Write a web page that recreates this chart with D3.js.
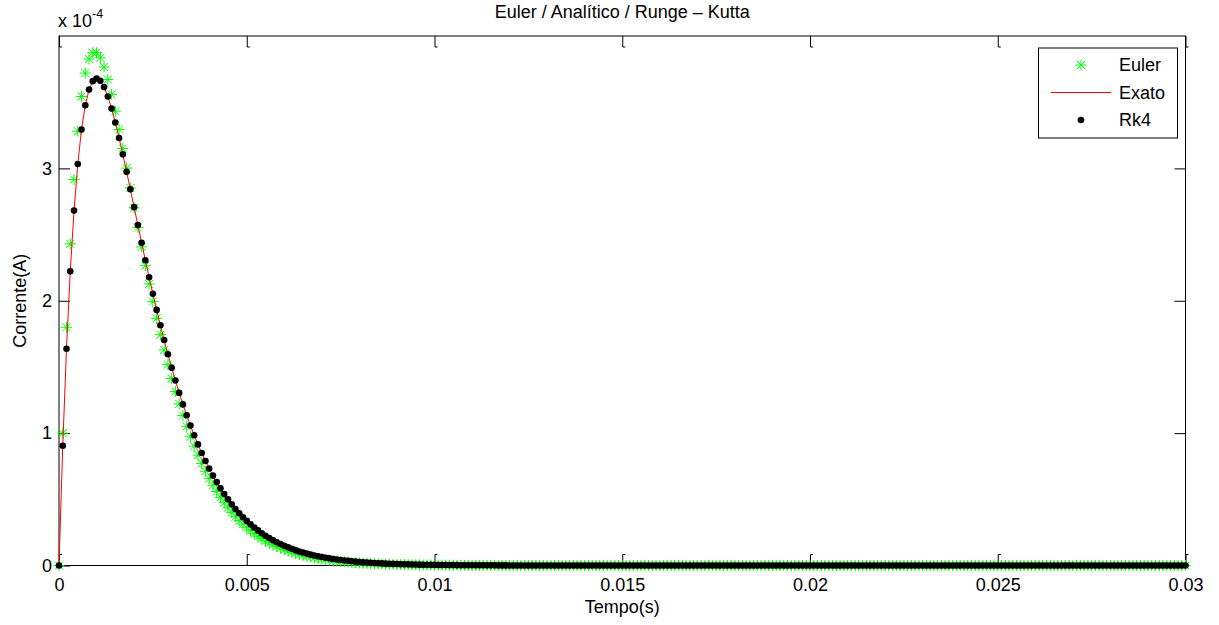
<!DOCTYPE html>
<html><head><meta charset="utf-8">
<script src="https://cdn.jsdelivr.net/npm/d3@7"></script>
<style>
body{margin:0;background:#fff}
text{font-family:"Liberation Sans",Arial,Helvetica,sans-serif;fill:#000}
</style>
</head><body>
<svg id="c" width="1219" height="625"></svg>
<script>
// ---- data (current in units of 1e-4 A), step h = 1e-4 s, t = 0 ... 0.03 s ----
const h = 1e-4;
const nSteps = 301;
const xTicks = [0, 0.005, 0.01, 0.015, 0.02, 0.025, 0.03];
const yTicks = [0, 1, 2, 3];
const seriesNames = ["Euler", "Exato", "Rk4"];

const eulerHead = [
 0, 1.000, 1.800, 2.430, 2.916, 3.281, 3.543, 3.720, 3.826, 3.874,
 3.874, 3.835, 3.766, 3.672, 3.559, 3.432, 3.294, 3.150, 3.002, 2.852,
 2.702, 2.553, 2.407, 2.265, 2.127, 1.994, 1.867, 1.744, 1.628, 1.518,
 1.413, 1.314, 1.221, 1.133, 1.051, 0.973, 0.901, 0.834, 0.770, 0.712,
 0.657, 0.606, 0.559, 0.515, 0.474, 0.436, 0.401, 0.369, 0.339, 0.312,
 0.286, 0.263, 0.241, 0.221, 0.203, 0.186, 0.170, 0.156, 0.143, 0.131,
 0.120, 0.110, 0.100, 0.092, 0.084, 0.077, 0.070, 0.064, 0.058, 0.053,
 0.049, 0.045, 0.041, 0.037, 0.034, 0.031, 0.028, 0.026, 0.023, 0.021,
 0.019, 0.018, 0.016, 0.015, 0.013, 0.012, 0.011, 0.010, 0.009, 0.008,
 0.0076, 0.0069, 0.0062, 0.0056, 0.0050, 0.0047, 0.0041, 0.0037, 0.0033, 0.0032,
 0.0030, 0.0027, 0.0024, 0.0021, 0.0019, 0.0017, 0.0016, 0.0014, 0.0012, 0.0011,
 0.0010, 0.0009, 0.0008, 0.0007, 0.0007, 0.0006, 0.0005, 0.0005, 0.0004, 0.0004
];
const rk4Head = [
 0, 0.905, 1.637, 2.222, 2.681, 3.033, 3.293, 3.476, 3.595, 3.659,
 3.679, 3.662, 3.614, 3.543, 3.452, 3.347, 3.230, 3.106, 2.975, 2.842,
 2.707, 2.572, 2.438, 2.306, 2.177, 2.052, 1.931, 1.815, 1.703, 1.596,
 1.494, 1.397, 1.304, 1.217, 1.135, 1.057, 0.984, 0.915, 0.850, 0.789,
 0.733, 0.679, 0.630, 0.583, 0.540, 0.500, 0.462, 0.427, 0.395, 0.365,
 0.337, 0.311, 0.287, 0.265, 0.244, 0.225, 0.207, 0.191, 0.176, 0.162,
 0.149, 0.137, 0.126, 0.116, 0.106, 0.098, 0.090, 0.082, 0.076, 0.070,
 0.064, 0.059, 0.054, 0.049, 0.045, 0.041, 0.038, 0.035, 0.032, 0.029,
 0.027, 0.025, 0.023, 0.021, 0.019, 0.017, 0.016, 0.014, 0.013, 0.012,
 0.011, 0.010, 0.009, 0.0085, 0.0078, 0.0071, 0.0065, 0.0059, 0.0054, 0.0050,
 0.0045, 0.0042, 0.0038, 0.0035, 0.0032, 0.0029, 0.0026, 0.0024, 0.0022, 0.0020,
 0.0018, 0.0016, 0.0015, 0.0014, 0.0012, 0.0012, 0.0010, 0.0009, 0.0009, 0.0008
];
// t >= 0.012 s : all methods are at zero on the plot
const tailZeros = [
 0,0,0,0,0,0,0,0,0,0, 0,0,0,0,0,0,0,0,0,0,
 0,0,0,0,0,0,0,0,0,0, 0,0,0,0,0,0,0,0,0,0,
 0,0,0,0,0,0,0,0,0,0, 0,0,0,0,0,0,0,0,0,0,
 0,0,0,0,0,0,0,0,0,0, 0,0,0,0,0,0,0,0,0,0,
 0,0,0,0,0,0,0,0,0,0, 0,0,0,0,0,0,0,0,0,0,
 0,0,0,0,0,0,0,0,0,0, 0,0,0,0,0,0,0,0,0,0,
 0,0,0,0,0,0,0,0,0,0, 0,0,0,0,0,0,0,0,0,0,
 0,0,0,0,0,0,0,0,0,0, 0,0,0,0,0,0,0,0,0,0,
 0,0,0,0,0,0,0,0,0,0, 0,0,0,0,0,0,0,0,0,0,
 0
];
const euler = eulerHead.concat(tailZeros);
const rk4 = rk4Head.concat(tailZeros);
const exato = rk4Head.concat(tailZeros); // analytic solution coincides with RK4 at plot resolution
const tempo = d3.range(nSteps).map(i => i * h);

// ---- drawing ----
const svg = d3.select("#c");
const L = 59, R = 1185.5, T = 36, B = 565.5;
const FS = 18;
const x = d3.scaleLinear().domain([0, 0.03]).range([L, R]);
const y = d3.scaleLinear().domain([0, 4]).range([B, T]);
const fmt = d3.format("~g");
const tk = 11;

function styleAxis(g){
  g.select(".domain").remove();
  g.selectAll(".tick line").attr("stroke","#000").attr("stroke-width",1);
  g.selectAll(".tick text").attr("font-size",FS).attr("font-family",'"Liberation Sans",Arial,sans-serif').attr("fill","#000");
}
const gb = svg.append("g").attr("transform",`translate(0,${B})`)
  .call(d3.axisBottom(x).tickValues(xTicks).tickFormat(fmt).tickSize(-tk).tickPadding(12.7)).call(styleAxis);
const gt = svg.append("g").attr("transform",`translate(0,${T})`)
  .call(d3.axisTop(x).tickValues(xTicks).tickFormat("").tickSize(-tk)).call(styleAxis);
svg.append("g").attr("transform",`translate(${L},0)`)
  .call(d3.axisLeft(y).tickValues(yTicks).tickFormat(fmt).tickSize(-tk).tickPadding(7)).call(styleAxis);
svg.append("g").attr("transform",`translate(${R},0)`)
  .call(d3.axisRight(y).tickValues(yTicks).tickFormat("").tickSize(-tk)).call(styleAxis);
// small hooks at the inner end of the x ticks (as rendered in the original)
gb.selectAll(".tick").append("line").attr("x1",0).attr("x2",2.5).attr("y1",-tk).attr("y2",-tk).attr("stroke","#000");
gt.selectAll(".tick").append("line").attr("x1",0).attr("x2",2.5).attr("y1",tk).attr("y2",tk).attr("stroke","#000");

svg.append("rect").attr("x",L).attr("y",T).attr("width",R-L).attr("height",B-T)
  .attr("fill","none").attr("stroke","#000").attr("stroke-width",1);

// exponent label
const ex = svg.append("text").attr("x",58).attr("y",26.5).attr("font-size",FS);
ex.append("tspan").text("x 10");
ex.append("tspan").attr("font-size",12.5).attr("dy",-9).text("-4");

// series
const s = 5.5, d = 4;
const star = `M${-s},0L${s},0M0,${-s}L0,${s}M${-d},${-d}L${d},${d}M${-d},${d}L${d},${-d}`;
svg.append("g").selectAll("path").data(euler).join("path")
  .attr("transform",(v,i)=>`translate(${x(tempo[i])},${y(v)})`)
  .attr("d",star).attr("stroke","#00ff00").attr("stroke-width",1).attr("fill","none");

svg.append("path").datum(exato)
  .attr("d",d3.line().x((v,i)=>x(tempo[i])).y(v=>y(v)))
  .attr("fill","none").attr("stroke","#ff0000").attr("stroke-width",1);

svg.append("g").selectAll("circle").data(rk4).join("circle")
  .attr("cx",(v,i)=>x(tempo[i])).attr("cy",v=>y(v)).attr("r",3.3).attr("fill","#000");

// title and labels
svg.append("text").attr("x",(L+R)/2).attr("y",17.5).attr("text-anchor","middle").attr("font-size",FS)
  .text("Euler / Analítico / Runge – Kutta");
svg.append("text").attr("x",(L+R)/2).attr("y",613).attr("text-anchor","middle").attr("font-size",FS)
  .text("Tempo(s)");
svg.append("text").attr("transform",`translate(26,${(T+B)/2}) rotate(-90)`).attr("text-anchor","middle").attr("font-size",FS)
  .text("Corrente(A)");

// legend
const lg = svg.append("g");
lg.append("rect").attr("x",1038.5).attr("y",48).attr("width",139).attr("height",90)
  .attr("fill","#fff").attr("stroke","#000").attr("stroke-width",1);
const rows = [65, 92.5, 120];
lg.append("path").attr("transform",`translate(1081,${rows[0]})`).attr("d",star)
  .attr("stroke","#00ff00").attr("fill","none");
lg.append("line").attr("x1",1051).attr("x2",1111).attr("y1",rows[1]).attr("y2",rows[1])
  .attr("stroke","#ff0000").attr("stroke-width",1);
lg.append("circle").attr("cx",1081).attr("cy",rows[2]).attr("r",3.3).attr("fill","#000");
seriesNames.forEach((n,i)=>{
  lg.append("text").attr("x",1119).attr("y",rows[i]).attr("dy","0.35em").attr("font-size",FS).text(n);
});
</script>
</body></html>
